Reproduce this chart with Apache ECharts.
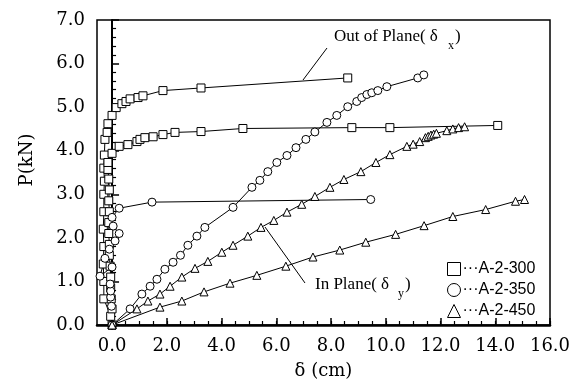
<!DOCTYPE html>
<html><head><meta charset="utf-8">
<script src="https://cdn.jsdelivr.net/npm/echarts@6/dist/echarts.min.js"></script>
<style>html,body{margin:0;padding:0;background:#fff}#c{width:582px;height:385px}</style>
</head><body><div id="c"></div>
<script>
// A-2-300 (squares)
var sq300Upper = [[-0.05,0.2],[-0.3,0.6],[-0.3,1.0],[-0.32,1.4],[-0.3,1.8],[-0.32,2.2],[-0.3,2.6],[-0.3,3.0],[-0.28,3.3],[-0.3,3.6],[-0.28,3.9],[-0.26,4.26],[-0.18,4.42],[-0.15,4.62],[0.0,4.81],[0.15,4.99],[0.36,5.08],[0.51,5.13],[0.66,5.19],[0.95,5.22],[1.13,5.26],[1.86,5.38],[3.25,5.44],[8.61,5.67]];
var sq300Lower = [[0.0,0.0],[0.0,0.37],[-0.03,0.6],[-0.05,0.85],[-0.05,1.1],[-0.07,1.35],[-0.1,1.6],[-0.1,1.85],[-0.12,2.1],[-0.12,2.35],[-0.1,2.6],[-0.12,2.85],[-0.1,3.1],[-0.12,3.35],[-0.15,3.57],[-0.15,3.73],[0.0,3.94],[0.26,4.10],[0.58,4.14],[0.91,4.21],[1.02,4.26],[1.2,4.3],[1.5,4.32],[1.86,4.37],[2.3,4.42],[3.25,4.44],[4.78,4.51],[8.76,4.53],[10.15,4.53],[14.09,4.58]];
// A-2-350 (circles)
var c350Flat = [[0.0,0.0],[-0.02,0.43],[-0.05,0.64],[-0.05,0.78],[-0.07,0.94],[0.0,1.33],[-0.44,1.12],[-0.26,1.53],[-0.1,1.74],[0.11,1.93],[0.26,2.1],[0.04,2.27],[0.0,2.47],[0.26,2.68],[1.46,2.82],[9.45,2.88]];
var c350Rise = [[0.0,0.0],[0.66,0.37],[1.09,0.71],[1.39,0.89],[1.64,1.05],[1.93,1.28],[2.23,1.44],[2.5,1.6],[2.77,1.83],[3.1,2.04],[3.39,2.24],[4.42,2.7],[5.11,3.16],[5.4,3.32],[5.69,3.52],[6.02,3.73],[6.39,3.89],[6.72,4.07],[7.08,4.26],[7.41,4.43],[7.85,4.65],[8.21,4.81],[8.61,5.01],[8.94,5.13],[9.12,5.22],[9.31,5.29],[9.49,5.33],[9.71,5.38],[10.04,5.47],[11.17,5.67],[11.39,5.74]];
// A-2-450 (triangles)
var t450Upper = [[0,0],[0.91,0.37],[1.31,0.55],[1.75,0.71],[2.12,0.89],[2.55,1.1],[3.03,1.3],[3.5,1.46],[4.01,1.67],[4.42,1.83],[4.96,2.04],[5.44,2.24],[5.91,2.4],[6.39,2.59],[6.93,2.77],[7.41,2.95],[7.96,3.16],[8.47,3.34],[9.09,3.52],[9.64,3.73],[10.15,3.91],[10.77,4.1],[11.0,4.15],[11.24,4.21],[11.45,4.3],[11.55,4.33],[11.65,4.36],[11.75,4.38],[11.85,4.4],[12.23,4.46],[12.45,4.5],[12.66,4.53],[12.88,4.55]];
var t450Lower = [[0,0],[1.75,0.41],[2.55,0.55],[3.36,0.76],[4.31,0.96],[5.29,1.14],[6.35,1.35],[7.34,1.56],[8.32,1.72],[9.27,1.9],[10.36,2.08],[11.4,2.28],[12.45,2.49],[13.65,2.65],[14.74,2.84],[15.07,2.88]];

var seriesNames = ['A-2-300','A-2-350','A-2-450'];
var xLabelValues = [0,2,4,6,8,10,12,14,16];
var xMinorTicks = [0,0.5,1,1.5,2,2.5,3,3.5,4,4.5,5,5.5,6,6.5,7,7.5,8,8.5,9,9.5,10,10.5,11,11.5,12,12.5,13,13.5,14,14.5,15,15.5,16];

var chart = echarts.init(document.getElementById('c'), null, {renderer:'canvas'});
var serif = 'DejaVu Serif';
function mk(name, data, sym){
  return {name:name, type:'line', data:data, symbol:sym, symbolSize:8, xAxisIndex:0,
    lineStyle:{color:'#000', width:1}, itemStyle:{color:'#fff', borderColor:'#000', borderWidth:1},
    animation:false, z:3};
}
chart.setOption({
  animation:false,
  grid:{left:97, right:32, top:20, bottom:59, show:true, borderColor:'#000', borderWidth:1.5},
  xAxis:[{
    type:'value', min:-0.55, max:16, position:'bottom',
    axisLine:{lineStyle:{color:'#000', width:2.5}},
    axisTick:{inside:true, length:7, customValues:xLabelValues, lineStyle:{color:'#000', width:1.5}},
    axisLabel:{customValues:xLabelValues, formatter:function(v){return v.toFixed(1);}, color:'#000', fontFamily:serif, fontSize:18, margin:12},
    splitLine:{show:false},
    name:'\u03b4 (cm)', nameLocation:'middle', nameGap:37, nameTextStyle:{color:'#000', fontFamily:serif, fontSize:18}
  },{
    type:'value', min:-0.55, max:16, position:'bottom',
    axisLine:{show:true, lineStyle:{color:'#000', opacity:0}},
    axisTick:{show:true, inside:true, length:4, customValues:xMinorTicks, lineStyle:{color:'#000', width:1.2}},
    axisLabel:{show:false}, splitLine:{show:false}
  }],
  yAxis:{
    type:'value', min:0, max:7, interval:1,
    axisLine:{lineStyle:{color:'#000', width:2}},
    axisTick:{inside:true, length:7, lineStyle:{color:'#000', width:1.5}},
    minorTick:{show:true, splitNumber:5, length:4, lineStyle:{color:'#000', width:1.2}},
    axisLabel:{formatter:function(v){return v.toFixed(1);}, color:'#000', fontFamily:serif, fontSize:18, margin:12},
    splitLine:{show:false}
  },
  legend:{
    orient:'vertical', left:442, top:256, itemWidth:13, itemHeight:13, itemGap:5,
    data:[{name:seriesNames[0], icon:'rect'},{name:seriesNames[1], icon:'circle'},{name:seriesNames[2], icon:'triangle'}],
    itemStyle:{color:'#fff', borderColor:'#000', borderWidth:1},
    lineStyle:{opacity:0},
    formatter:function(n){return '\u00b7\u00b7\u00b7' + n;},
    textStyle:{color:'#000', fontFamily:'Liberation Sans', fontSize:16, padding:[0,0,0,-3]}
  },
  graphic:[
    {type:'text', x:27, y:160, rotation:Math.PI/2, style:{text:'P(kN)', fontFamily:serif, fontSize:18, fill:'#000', textAlign:'center', textVerticalAlign:'middle'}},
    {type:'text', x:334, y:28, style:{text:'Out of Plane( \u03b4', fontFamily:'Liberation Serif', fontSize:17, fill:'#000'}},
    {type:'text', x:448, y:40, style:{text:'x', fontFamily:'Liberation Serif', fontSize:12, fill:'#000'}},
    {type:'text', x:455, y:28, style:{text:')', fontFamily:'Liberation Serif', fontSize:17, fill:'#000'}},
    {type:'line', shape:{x1:327, y1:48, x2:303, y2:80}, style:{stroke:'#000', lineWidth:1}},
    {type:'text', x:315, y:276, style:{text:'In Plane( \u03b4', fontFamily:'Liberation Serif', fontSize:17, fill:'#000'}},
    {type:'text', x:398, y:288, style:{text:'y', fontFamily:'Liberation Serif', fontSize:12, fill:'#000'}},
    {type:'text', x:405, y:276, style:{text:')', fontFamily:'Liberation Serif', fontSize:17, fill:'#000'}},
    {type:'line', shape:{x1:265, y1:227, x2:305, y2:283}, style:{stroke:'#000', lineWidth:1}}
  ],
  series:[
    mk(seriesNames[0], sq300Upper, 'rect'),
    mk(seriesNames[0], sq300Lower, 'rect'),
    mk(seriesNames[1], c350Flat, 'circle'),
    mk(seriesNames[1], c350Rise, 'circle'),
    mk(seriesNames[2], t450Upper, 'triangle'),
    mk(seriesNames[2], t450Lower, 'triangle')
  ]
});
</script></body></html>
